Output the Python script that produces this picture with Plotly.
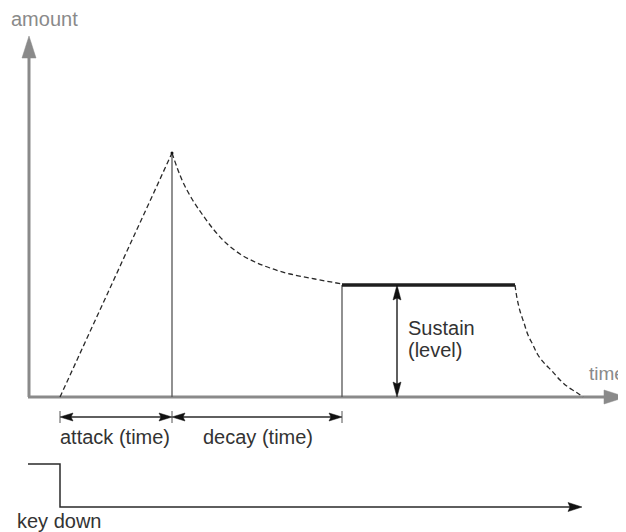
import plotly.graph_objects as go

# ---- diagram values (x: time units, y: amount units, drawn on a 626x532 canvas scale) ----
origin_x = [29]
origin_y = [397]
axis_tip_x = [626]          # end of the time axis arrow
axis_tip_y = [36]           # end of the amount axis arrow

attack_x = [60, 172]
attack_y = [397, 153]

decay_x = [172, 182, 192, 202, 214, 226, 240, 255, 270, 290, 315, 342]
decay_y = [153, 180, 199, 214, 230, 243, 254, 262, 268, 274, 279, 284]

sustain_x = [342, 515]
sustain_y = [285, 285]

release_x = [515, 517, 520, 524, 528, 533, 538, 545, 552, 560, 568, 576, 583]
release_y = [285, 298, 311, 323, 335, 345, 355, 364, 371, 380, 387, 392, 397]

stage_marks_x = [60, 172, 342]     # attack start, peak, decay end
span_y = [417]
sustain_arrow_x = [397]

key_x = [28, 60, 60, 582]
key_y = [464, 464, 507, 507]

label_text = ["amount", "time", "attack (time)", "decay (time)", "Sustain", "(level)", "key down"]
label_x = [9, 587, 58, 201, 406, 406, 15]
label_y = [19, 373, 437, 437, 328, 350, 521]
label_size = [20, 19, 20, 20, 20, 20, 20]
label_grey = [True, True, False, False, False, False, False]

GREY = "#8a8a8a"
DARK = "#2a2a2a"
MID = "#555555"
FONT = "Liberation Sans, Arial, Helvetica, sans-serif"
PAGE_OFFSET = 8  # the page body margin
PAGE_W, PAGE_H = 626, 532

fig = go.Figure()


def line(xs, ys, color, width, dash=None):
    fig.add_trace(go.Scatter(x=xs, y=ys, mode="lines", hoverinfo="skip",
                             line=dict(color=color, width=width, dash=dash, shape="spline" if len(xs) > 4 else "linear")))


def head(tx, ty, dx, dy, length, half, color, notch=0.0):
    n = (dx * dx + dy * dy) ** 0.5
    ux, uy = dx / n, dy / n
    px, py = -uy, ux
    bx, by = tx - ux * length, ty - uy * length
    nx, ny = tx - ux * (length - notch), ty - uy * (length - notch)
    xs = [tx, bx + px * half, nx, bx - px * half, tx]
    ys = [ty, by + py * half, ny, by - py * half, ty]
    fig.add_trace(go.Scatter(x=xs, y=ys, mode="lines", fill="toself", fillcolor=color,
                             line=dict(color=color, width=0.5), hoverinfo="skip"))


# axes
ox, oy = origin_x[0], origin_y[0]
line([ox, ox], [oy, axis_tip_y[0] + 18], GREY, 3)
head(ox, axis_tip_y[0], 0, -1, 22, 7, GREY)
line([ox - 1, axis_tip_x[0] - 18], [oy, oy], GREY, 3)
head(axis_tip_x[0], oy, 1, 0, 22, 7, GREY)

# stage verticals
line([stage_marks_x[1], stage_marks_x[1]], [attack_y[1], oy], MID, 1.3)
line([stage_marks_x[2], stage_marks_x[2]], [sustain_y[0], oy], MID, 1.3)

# envelope
line(attack_x, attack_y, DARK, 1.3, "5px,3px")
line(decay_x, decay_y, DARK, 1.3, "5px,3px")
line(release_x, release_y, DARK, 1.3, "5px,3px")
line(sustain_x, sustain_y, "#1e1e1e", 3.5)
fig.add_trace(go.Scatter(x=[attack_x[1]], y=[attack_y[1]], mode="markers",
                         marker=dict(color="#111", size=3), hoverinfo="skip"))

# time spans
sy = span_y[0]
for xm in stage_marks_x:
    line([xm, xm], [sy - 6, sy + 6], MID, 1)
for a, b in [(stage_marks_x[0], stage_marks_x[1]), (stage_marks_x[1], stage_marks_x[2])]:
    line([a + 8, b - 8], [sy, sy], DARK, 1.5)
    head(a, sy, -1, 0, 13, 4, "#111", 2)
    head(b, sy, 1, 0, 13, 4, "#111", 2)

# sustain level arrow
sx = sustain_arrow_x[0]
line([sx, sx], [sustain_y[0] + 8, oy - 8], DARK, 1.5)
head(sx, sustain_y[0], 0, -1, 15, 4, "#111", 2)
head(sx, oy, 0, 1, 15, 4, "#111", 2)

# key down gate
line(key_x[:-1] + [key_x[-1] - 8], key_y, DARK, 1.5)
head(key_x[-1], key_y[-1], 1, 0, 14, 4.5, "#111", 2)

for t, x, y, s, g in zip(label_text, label_x, label_y, label_size, label_grey):
    fig.add_annotation(x=x, y=y, text=t, showarrow=False, xanchor="left", yanchor="middle",
                       font=dict(family=FONT, size=s, color=GREY if g else "#333333"))

# figure placed after the page's 8px body margin, reaching the window's right and bottom edges
fig.update_layout(width=PAGE_W - PAGE_OFFSET, height=PAGE_H - PAGE_OFFSET,
                  margin=dict(l=0, r=0, t=0, b=0),
                  paper_bgcolor="white", plot_bgcolor="white", showlegend=False)
fig.update_xaxes(visible=False, range=[PAGE_OFFSET, PAGE_W], fixedrange=True)
fig.update_yaxes(visible=False, range=[PAGE_H, PAGE_OFFSET], fixedrange=True)

fig.write_html("out.html")
